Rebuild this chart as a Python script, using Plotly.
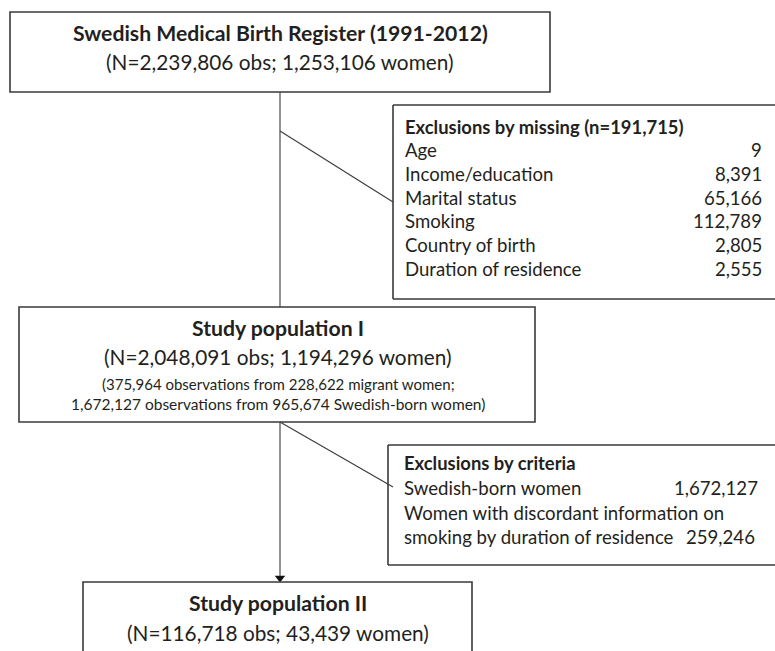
import plotly.graph_objects as go

W, H = 775, 651
FONT = "Lato"
TXT = "#231f20"
LINE = "#3a3a3a"

# ---- content ----
top_title = "Swedish Medical Birth Register (1991-2012)"
top_sub = "(N=2,239,806 obs; 1,253,106 women)"

pop1_title = "Study population I"
pop1_sub = "(N=2,048,091 obs; 1,194,296 women)"
pop1_notes = ["(375,964 observations from 228,622 migrant women;",
              "1,672,127 observations from 965,674 Swedish-born women)"]

missing_title = "Exclusions by missing (n=191,715)"
missing_labels = ["Age", "Income/education", "Marital status", "Smoking",
                  "Country of birth", "Duration of residence"]
missing_values = ["9", "8,391", "65,166", "112,789", "2,805", "2,555"]

criteria_title = "Exclusions by criteria"
criteria_lines = ["Swedish-born women", "Women with discordant information on",
                  "smoking by duration of residence"]
criteria_values = ["1,672,127", "", "259,246"]

pop2_title = "Study population II"
pop2_sub = "(N=116,718 obs; 43,439 women)"

fig = go.Figure()
shapes = []
ann = []

def box(x0, y0, x1, y1, open_right=False):
    lw = 1.6
    if open_right:
        shapes.append(dict(type="line", x0=x0, y0=y0, x1=x1, y1=y0, line=dict(color=LINE, width=lw)))
        shapes.append(dict(type="line", x0=x0, y0=y1, x1=x1, y1=y1, line=dict(color=LINE, width=lw)))
        shapes.append(dict(type="line", x0=x0, y0=y0, x1=x0, y1=y1, line=dict(color=LINE, width=lw)))
    else:
        shapes.append(dict(type="rect", x0=x0, y0=y0, x1=x1, y1=y1, line=dict(color=LINE, width=lw)))

def line(x0, y0, x1, y1, w=1.1):
    shapes.append(dict(type="line", x0=x0, y0=y0, x1=x1, y1=y1, line=dict(color=LINE, width=w)))

def text(x, y, s, size, bold=False, anchor="center"):
    ann.append(dict(x=x, y=y, text=(f"<b>{s}</b>" if bold else s), showarrow=False,
                    xanchor=anchor, yanchor="middle",
                    font=dict(family=FONT, size=size, color=TXT)))

# boxes
box(10, 12, 550, 92)
box(19, 307, 535, 422)
box(393, 105, 790, 299, open_right=True)
box(388, 445, 790, 565, open_right=True)
box(83, 582, 472, 700)

# connectors
line(280, 92, 280, 307)
line(280, 131, 393, 202)
line(280, 422, 280, 576)
line(280, 422, 393, 487)

# arrow head
fig.add_trace(go.Scatter(x=[280], y=[578], mode="markers",
                         marker=dict(symbol="triangle-down", size=9, color="#111"),
                         hoverinfo="skip", showlegend=False))

# texts
text(280, 33, top_title, 21.2, bold=True)
text(280, 61, top_sub, 20.8)

text(278, 328, pop1_title, 21.2, bold=True)
text(278, 356, pop1_sub, 20.8)
text(278, 384, pop1_notes[0], 15)
text(278, 404, pop1_notes[1], 15.5)

text(403, 127, missing_title, 18.4, bold=True, anchor="left")
for i, (lab, val) in enumerate(zip(missing_labels, missing_values)):
    y = 150 + i * 23.8
    text(403, y, lab, 18.6, anchor="left")
    text(764, y, val, 18.6, anchor="right")

text(402, 463, criteria_title, 18.4, bold=True, anchor="left")
for i, (lab, val) in enumerate(zip(criteria_lines, criteria_values)):
    y = 488 + i * 24.5
    text(402, y, lab, 18.6, anchor="left")
    if val:
        text(760 if i == 0 else 757, y, val, 18.6, anchor="right")

text(278, 603, pop2_title, 21.2, bold=True)
text(278, 632, pop2_sub, 20.8)

fig.update_layout(
    width=W, height=H, margin=dict(l=0, r=0, t=0, b=0),
    paper_bgcolor="white", plot_bgcolor="white",
    xaxis=dict(range=[0, W], visible=False, fixedrange=True),
    yaxis=dict(range=[H, 0], visible=False, fixedrange=True),
    shapes=shapes, annotations=ann, showlegend=False,
)
fig.write_html("out.html", config={"displayModeBar": False},
               post_script="document.body.style.margin='0';document.body.style.overflow='hidden';")
